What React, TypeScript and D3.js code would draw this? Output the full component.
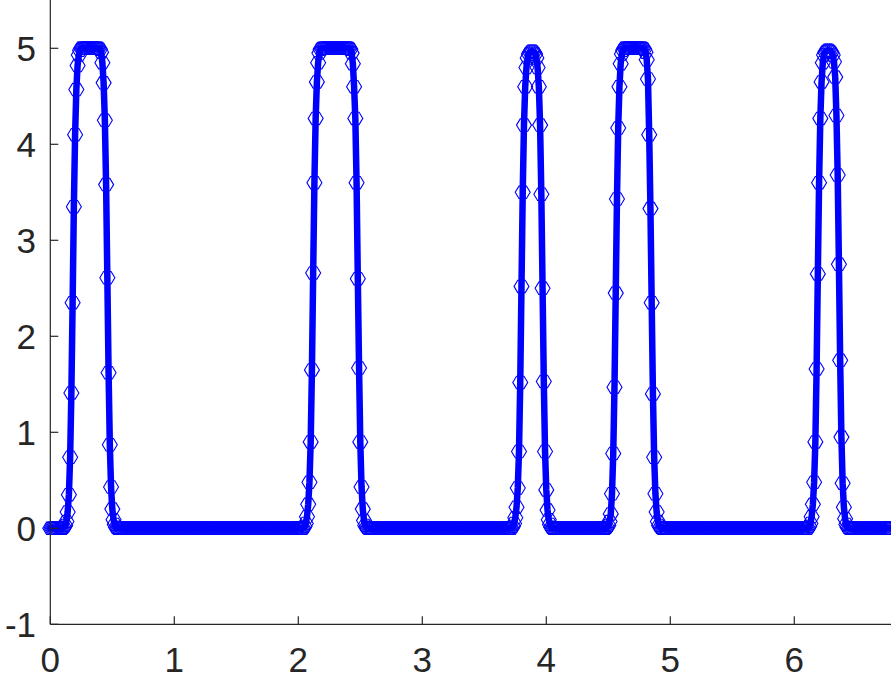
import React from 'react';
import * as d3 from 'd3';

// sampled signal, step of 0.01 on x; zero everywhere outside the pulses
const DT = 0.01;
const X_END = 6.78;

const PULSE_STARTS = [0.11, 2.05, 3.73, 4.49, 6.12];

const pulse1 = [
  0.01, 0.03, 0.07, 0.17, 0.35, 0.74, 1.41, 2.35, 3.35, 4.1, 4.57, 4.82, 4.93, 4.98, 5,
  5, 5, 5, 5, 5, 5, 5, 5, 5, 5, 5, 5, 5, 5,
  4.99, 4.96, 4.85, 4.64, 4.25, 3.58, 2.61, 1.62, 0.87, 0.43, 0.2, 0.09, 0.04, 0.01,
];
const pulse2 = [
  0.02, 0.05, 0.12, 0.25, 0.48, 0.9, 1.65, 2.66, 3.6, 4.27, 4.65, 4.85, 4.95, 4.99, 5,
  5, 5, 5, 5, 5, 5, 5, 5, 5, 5, 5, 5, 5, 5, 5, 5, 5, 5, 5, 5, 5, 5,
  4.99, 4.95, 4.84, 4.6, 4.27, 3.6, 2.6, 1.67, 0.9, 0.43, 0.2, 0.08, 0.03, 0.01,
];
const pulse3 = [
  0.02, 0.05, 0.11, 0.22, 0.42, 0.8, 1.52, 2.52, 3.5, 4.2, 4.6, 4.8, 4.9, 4.94, 4.96, 4.97,
  4.97, 4.96, 4.94, 4.9, 4.8, 4.6, 4.2, 3.48, 2.5, 1.53, 0.8, 0.4, 0.19, 0.09, 0.04, 0.01,
];
const pulse4 = [
  0.01, 0.03, 0.07, 0.15, 0.36, 0.78, 1.47, 2.45, 3.43, 4.17, 4.6, 4.84, 4.94, 4.98, 5,
  5, 5, 5, 5, 5, 5, 5, 5, 5, 5, 5, 5, 5, 5, 5,
  4.99, 4.96, 4.88, 4.68, 4.1, 3.33, 2.35, 1.4, 0.74, 0.36, 0.17, 0.07, 0.03, 0.01,
];
const pulse5 = [
  0.02, 0.05, 0.12, 0.25, 0.48, 0.9, 1.66, 2.65, 3.6, 4.27, 4.65, 4.85, 4.93, 4.96, 4.97, 4.98,
  4.98, 4.97, 4.96, 4.93, 4.86, 4.7, 4.3, 3.68, 2.75, 1.75, 0.95, 0.47, 0.22, 0.1, 0.04, 0.01,
];
const PULSES = [pulse1, pulse2, pulse3, pulse4, pulse5];

const X_TICKS = [0, 1, 2, 3, 4, 5, 6];
const Y_TICKS = [-1, 0, 1, 2, 3, 4, 5];

const WIDTH = 891;
const HEIGHT = 678;
const AXIS_COLOR = '#262626';
const BLUE = '#0000ff';
const FONT = '"Liberation Sans", Arial, Helvetica, sans-serif';

function buildSeries() {
  const n = Math.round(X_END / DT) + 1;
  const ys = new Array(n).fill(0);
  PULSES.forEach((p, k) => {
    const i0 = Math.round(PULSE_STARTS[k] / DT);
    p.forEach((v, j) => {
      if (i0 + j < n) ys[i0 + j] = v;
    });
  });
  return ys.map((y, i) => ({ x: i * DT, y }));
}

// hexagon marker, pointed left/right, flat top/bottom
const hexPath = (rx: number, ry: number) => {
  const pts = [
    [rx, 0],
    [rx / 2, ry],
    [-rx / 2, ry],
    [-rx, 0],
    [-rx / 2, -ry],
    [rx / 2, -ry],
  ];
  return 'M' + pts.map((p) => p.map((v) => v.toFixed(2)).join(',')).join('L') + 'Z';
};

export default function App() {
  const data = buildSeries();

  const x = d3.scaleLinear().domain([0, X_END]).range([50.3, 891]);
  const y = d3.scaleLinear().domain([-1, 5.5]).range([624.3, 0.3]);

  const line = d3
    .line<{ x: number; y: number }>()
    .x((d) => x(d.x))
    .y((d) => y(d.y));

  const hex = hexPath(7.5, 6.2);
  const x0 = x(0);
  const yBottom = y(-1);

  return (
    <svg
      width={WIDTH}
      height={HEIGHT}
      style={{ position: 'absolute', left: 0, top: 0, background: '#fff' }}
    >
      <rect x={0} y={0} width={WIDTH} height={HEIGHT} fill="#fff" />

      <path
        d={line(data) || ''}
        fill="none"
        stroke={BLUE}
        strokeWidth={6.5}
        strokeLinejoin="round"
        strokeLinecap="round"
      />
      <g fill="none" stroke={BLUE} strokeWidth={1.1}>
        {data.map((d, i) => (
          <path key={i} d={hex} transform={`translate(${x(d.x)},${y(d.y)})`} />
        ))}
      </g>

      {/* axes */}
      <g stroke={AXIS_COLOR} strokeWidth={1.2} fill="none">
        <line x1={x0} x2={x0} y1={0} y2={yBottom} />
        <line x1={x0} x2={WIDTH} y1={yBottom} y2={yBottom} />
        {X_TICKS.map((t) => (
          <line key={'xt' + t} x1={x(t)} x2={x(t)} y1={yBottom} y2={yBottom - 8} />
        ))}
        {Y_TICKS.map((t) => (
          <line key={'yt' + t} x1={x0} x2={x0 + 8} y1={y(t)} y2={y(t)} />
        ))}
      </g>

      <g fill={AXIS_COLOR} fontFamily={FONT} fontSize={35}>
        {X_TICKS.map((t) => (
          <text key={'xl' + t} x={x(t)} y={672} textAnchor="middle">
            {t}
          </text>
        ))}
        {Y_TICKS.map((t) => (
          <text key={'yl' + t} x={36} y={y(t)} dy="0.36em" textAnchor="end">
            {t}
          </text>
        ))}
      </g>
    </svg>
  );
}
